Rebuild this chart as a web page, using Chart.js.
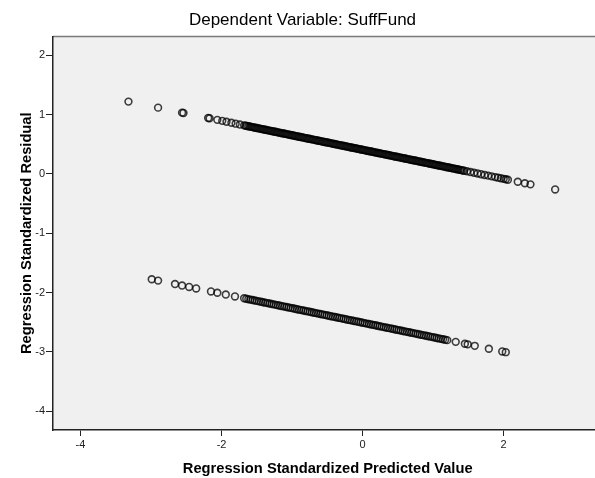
<!DOCTYPE html>
<html>
<head>
<meta charset="utf-8">
<script src="https://cdn.jsdelivr.net/npm/chart.js@4/dist/chart.umd.min.js"></script>
<style>
  html, body { margin: 0; padding: 0; background: #fff; overflow: hidden; }
  #wrap { position: absolute; left: 0; top: 0; width: 608px; height: 478px; }
</style>
</head>
<body>
<div id="wrap"><canvas id="residChart" width="608" height="478"></canvas></div>
<script>
// residuals: upper band (SuffFund = 1) and lower band (SuffFund = 0)
const upperX = [-3.32, -2.90, -2.56, -2.54, -2.19, -2.17, -2.06, -1.99, -1.93, -1.86, -1.80, -1.74,
  -1.68, -1.66, -1.64, -1.62, -1.60, -1.58, -1.56, -1.54, -1.52, -1.50, -1.48, -1.46, -1.44, -1.42, -1.40,
  -1.38, -1.36, -1.34, -1.32, -1.30, -1.28, -1.26, -1.24, -1.22, -1.20, -1.18, -1.16, -1.14, -1.12, -1.10,
  -1.08, -1.06, -1.04, -1.02, -1.00, -0.98, -0.96, -0.94, -0.92, -0.90, -0.88, -0.86, -0.84, -0.82, -0.80,
  -0.78, -0.76, -0.74, -0.72, -0.70, -0.68, -0.66, -0.64, -0.62, -0.60, -0.58, -0.56, -0.54, -0.52, -0.50,
  -0.48, -0.46, -0.44, -0.42, -0.40, -0.38, -0.36, -0.34, -0.32, -0.30, -0.28, -0.26, -0.24, -0.22, -0.20,
  -0.18, -0.16, -0.14, -0.12, -0.10, -0.08, -0.06, -0.04, -0.02, 0.00, 0.02, 0.04, 0.06, 0.08, 0.10,
  0.12, 0.14, 0.16, 0.18, 0.20, 0.22, 0.24, 0.26, 0.28, 0.30, 0.32, 0.34, 0.36, 0.38, 0.40, 0.42,
  0.44, 0.46, 0.48, 0.50, 0.52, 0.54, 0.56, 0.58, 0.60, 0.62, 0.64, 0.66, 0.68, 0.70, 0.72, 0.74,
  0.76, 0.78, 0.80, 0.82, 0.84, 0.86, 0.88, 0.90, 0.92, 0.94, 0.96, 0.98, 1.00, 1.02, 1.04, 1.06,
  1.08, 1.10, 1.12, 1.14, 1.16, 1.18, 1.20, 1.22, 1.24, 1.26, 1.28, 1.30, 1.32, 1.34, 1.36, 1.38,
  1.40, 1.42, 1.44,
  1.48, 1.53, 1.58, 1.63, 1.68, 1.73, 1.78, 1.83, 1.88, 1.92, 1.96, 2.00, 2.03, 2.06, 2.20, 2.30, 2.38, 2.73];
const upperY = [1.220, 1.118, 1.034, 1.029, 0.944, 0.938, 0.912, 0.895, 0.880, 0.863, 0.848, 0.833,
  0.819, 0.814, 0.809, 0.804, 0.799, 0.794, 0.789, 0.784, 0.779, 0.775, 0.770, 0.765, 0.760, 0.755, 0.750,
  0.745, 0.740, 0.735, 0.730, 0.726, 0.721, 0.716, 0.711, 0.706, 0.701, 0.696, 0.691, 0.686, 0.681, 0.677,
  0.672, 0.667, 0.662, 0.657, 0.652, 0.647, 0.642, 0.637, 0.632, 0.628, 0.623, 0.618, 0.613, 0.608, 0.603,
  0.598, 0.593, 0.588, 0.583, 0.579, 0.574, 0.569, 0.564, 0.559, 0.554, 0.549, 0.544, 0.539, 0.534, 0.530,
  0.525, 0.520, 0.515, 0.510, 0.505, 0.500, 0.495, 0.490, 0.485, 0.481, 0.476, 0.471, 0.466, 0.461, 0.456,
  0.451, 0.446, 0.441, 0.436, 0.432, 0.427, 0.422, 0.417, 0.412, 0.407, 0.402, 0.397, 0.392, 0.387, 0.383,
  0.378, 0.373, 0.368, 0.363, 0.358, 0.353, 0.348, 0.343, 0.338, 0.334, 0.329, 0.324, 0.319, 0.314, 0.309,
  0.304, 0.299, 0.294, 0.289, 0.285, 0.280, 0.275, 0.270, 0.265, 0.260, 0.255, 0.250, 0.245, 0.240, 0.236,
  0.231, 0.226, 0.221, 0.216, 0.211, 0.206, 0.201, 0.196, 0.191, 0.187, 0.182, 0.177, 0.172, 0.167, 0.162,
  0.157, 0.152, 0.147, 0.142, 0.138, 0.133, 0.128, 0.123, 0.118, 0.113, 0.108, 0.103, 0.098, 0.093, 0.089,
  0.084, 0.079, 0.074, 0.069, 0.064, 0.059, 0.054,
  0.044, 0.032, 0.020, 0.008, -0.005, -0.017, -0.029, -0.041, -0.054, -0.063, -0.073, -0.083, -0.090, -0.098,
  -0.132, -0.157, -0.176, -0.262];

const lowerX = [-2.99, -2.90, -2.66, -2.56, -2.46, -2.36, -2.15, -2.06, -1.94, -1.81,
  -1.68, -1.65, -1.62, -1.59, -1.56, -1.53, -1.50, -1.47, -1.44, -1.41, -1.38, -1.35, -1.32, -1.29, -1.26,
  -1.23, -1.20, -1.17, -1.14, -1.11, -1.08, -1.05, -1.02, -0.99, -0.96, -0.93, -0.90, -0.87, -0.84, -0.81,
  -0.78, -0.75, -0.72, -0.69, -0.66, -0.63, -0.60, -0.57, -0.54, -0.51, -0.48, -0.45, -0.42, -0.39, -0.36,
  -0.33, -0.30, -0.27, -0.24, -0.21, -0.18, -0.15, -0.12, -0.09, -0.06, -0.03, 0.00, 0.03, 0.06, 0.09,
  0.12, 0.15, 0.18, 0.21, 0.24, 0.27, 0.30, 0.33, 0.36, 0.39, 0.42, 0.45, 0.48, 0.51, 0.54, 0.57, 0.60,
  0.63, 0.66, 0.69, 0.72, 0.75, 0.78, 0.81, 0.84, 0.87, 0.90, 0.93, 0.96, 0.99, 1.02, 1.05, 1.08, 1.11,
  1.14, 1.17, 1.20,
  1.32, 1.45, 1.49, 1.59, 1.79, 1.98, 2.03];
const lowerY = [-1.777, -1.800, -1.858, -1.883, -1.907, -1.932, -1.983, -2.005, -2.035, -2.067,
  -2.098, -2.106, -2.113, -2.120, -2.128, -2.135, -2.142, -2.150, -2.157, -2.165, -2.172, -2.179, -2.187,
  -2.194, -2.201, -2.209, -2.216, -2.223, -2.231, -2.238, -2.245, -2.253, -2.260, -2.267, -2.275, -2.282,
  -2.290, -2.297, -2.304, -2.312, -2.319, -2.326, -2.334, -2.341, -2.348, -2.356, -2.363, -2.370, -2.378,
  -2.385, -2.392, -2.400, -2.407, -2.414, -2.422, -2.429, -2.437, -2.444, -2.451, -2.459, -2.466, -2.473,
  -2.481, -2.488, -2.495, -2.503, -2.510, -2.517, -2.525, -2.532, -2.539, -2.547, -2.554, -2.561, -2.569,
  -2.576, -2.584, -2.591, -2.598, -2.606, -2.613, -2.620, -2.628, -2.635, -2.642, -2.650, -2.657, -2.664,
  -2.672, -2.679, -2.686, -2.694, -2.701, -2.708, -2.716, -2.723, -2.731, -2.738, -2.745, -2.753, -2.760,
  -2.767, -2.775, -2.782, -2.789, -2.797, -2.804,
  -2.833, -2.865, -2.875, -2.900, -2.949, -2.995, -3.007];

const xTitle = 'Regression Standardized Predicted Value';
const yTitle = 'Regression Standardized Residual';
const chartTitle = 'Dependent Variable: SuffFund';

Chart.defaults.font.family = 'Arial, "Liberation Sans", sans-serif';
Chart.defaults.color = '#222';

function toPoints(xs, ys) {
  return xs.map((x, i) => ({ x: x, y: ys[i] }));
}

// grey plot background with a thin frame on top, like SPSS output
const plotFrame = {
  id: 'plotFrame',
  beforeDraw(chart) {
    const { ctx, chartArea: a } = chart;
    ctx.save();
    ctx.fillStyle = '#f0f0f0';
    ctx.fillRect(a.left, a.top, a.right - a.left, a.bottom - a.top);
    ctx.strokeStyle = '#7a7a7a';
    ctx.lineWidth = 1.5;
    ctx.beginPath();
    ctx.moveTo(a.left, a.top);
    ctx.lineTo(a.right, a.top);
    ctx.lineTo(a.right, a.bottom);
    ctx.stroke();
    ctx.restore();
  }
};

const ringStyle = {
  pointStyle: 'circle',
  pointRadius: 3.4,
  pointBorderWidth: 1.6,
  pointBackgroundColor: 'rgba(0,0,0,0)',
  pointBorderColor: 'rgba(0,0,0,0.75)',
  showLine: false
};

new Chart(document.getElementById('residChart'), {
  type: 'scatter',
  data: {
    datasets: [
      Object.assign({ label: 'upper', data: toPoints(upperX, upperY) }, ringStyle),
      Object.assign({ label: 'lower', data: toPoints(lowerX, lowerY) }, ringStyle)
    ]
  },
  options: {
    responsive: false,
    animation: false,
    layout: { padding: { left: 0, right: 3, top: 0, bottom: 0 } },
    plugins: {
      legend: { display: false },
      tooltip: { enabled: false },
      title: {
        display: true,
        text: chartTitle,
        color: '#000',
        font: { size: 17, weight: 'normal' },
        padding: { top: 10, bottom: 6 }
      }
    },
    scales: {
      x: {
        type: 'linear',
        min: -4.39,
        max: 3.40,
        border: { display: true, color: '#222', width: 1.5 },
        grid: { drawOnChartArea: false, drawTicks: true, tickLength: 6, color: '#222' },
        ticks: { stepSize: 2, includeBounds: false, padding: 2, font: { size: 11 } },
        title: { display: true, text: xTitle, color: '#000', font: { size: 14.7, weight: 'bold' }, padding: { top: 0, bottom: 0 } },
        afterFit: s => { s.height = 48; }
      },
      y: {
        type: 'linear',
        min: -4.32,
        max: 2.32,
        border: { display: true, color: '#222', width: 1.5 },
        grid: { drawOnChartArea: false, drawTicks: true, tickLength: 7, color: '#222' },
        ticks: { stepSize: 1, includeBounds: false, padding: 1, font: { size: 11 } },
        title: { display: true, text: yTitle, color: '#000', font: { size: 14.7, weight: 'bold' }, padding: { top: 18, bottom: 0 } },
        afterFit: s => { s.width = 53; }
      }
    }
  },
  plugins: [plotFrame]
});
</script>
</body>
</html>
